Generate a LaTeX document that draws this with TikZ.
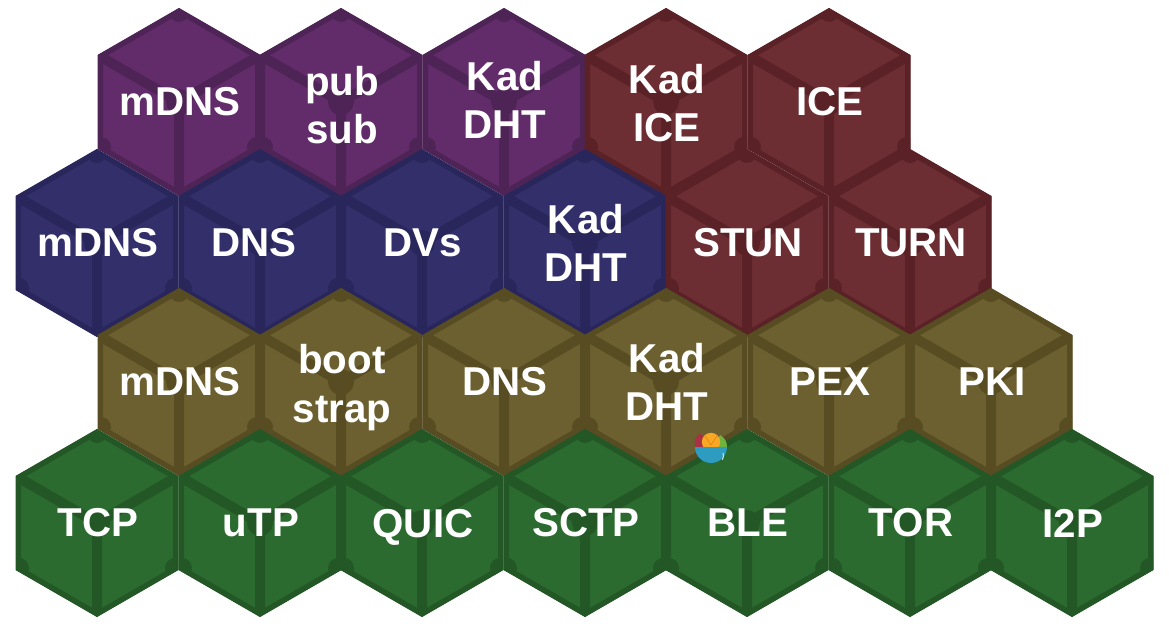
\documentclass[tikz,border=0pt]{standalone}
\usepackage{fontspec}
\setmainfont{Liberation Sans}
\usepackage{xcolor}
\usepackage{tikz}

\definecolor{greenface}{HTML}{2C6B30}
\definecolor{greenedge}{HTML}{235725}
\definecolor{olivface}{HTML}{6D6030}
\definecolor{olivedge}{HTML}{584C22}
\definecolor{blueface}{HTML}{322F6B}
\definecolor{blueedge}{HTML}{29265B}
\definecolor{plumface}{HTML}{622C6B}
\definecolor{plumedge}{HTML}{4E2456}
\definecolor{rustface}{HTML}{6D2E33}
\definecolor{rustedge}{HTML}{5A2227}
\definecolor{bowlblue}{HTML}{2E9CC0}
\definecolor{bowlred}{HTML}{A83244}
\definecolor{bowlorange}{HTML}{F9A825}
\definecolor{bowlgreen}{HTML}{6FB33F}

\newcommand{\hexpath}{(0,93.5) -- (81,46.75) -- (81,-46.75) -- (0,-93.5) -- (-81,-46.75) -- (-81,46.75) -- cycle}
% one cube: name, x, y, colour, label
\newcommand{\cubecell}[6][]{%
  \begin{scope}[shift={(#3,#4)}]
    \fill[#5face] \hexpath;
    \begin{scope}
      \clip \hexpath;
      \draw[#5edge,cubeline] \hexpath;
      \draw[#5edge,cubeline] (-81,46.75) -- (0,0) -- (81,46.75) (0,0) -- (0,-93.5);
      \fill[#5edge] (0,0) circle (13) (0,90) circle (10)
        (-78,-45) circle (10) (78,-45) circle (10);
    \end{scope}
    \draw[#5edge,line width=0.03cm] \hexpath;
    \node[cubelabel,#1] (#2) at (0,0) {#6};
  \end{scope}%
}

\begin{document}
\begin{tikzpicture}[
  x=0.03cm,y=0.03cm,
  cubeline/.style={line width=0.3cm},
  cubelabel/.style={text=white,align=center,inner sep=0pt,xshift=0.03cm,
    font=\fontsize{34.4}{41.6}\selectfont\bfseries}
]
\useasboundingbox (0,0) rectangle (1169,633);

% top row
\cubecell{mdnsa}{179}{531}{plum}{mDNS}
\cubecell[yshift=-0.09cm]{pubsub}{341}{531}{plum}{pub\\sub}
\cubecell[yshift=0.06cm]{kada}{504}{531}{plum}{Kad\\DHT}
\cubecell[yshift=-0.03cm]{kadice}{666}{531}{rust}{Kad\\ICE}
\cubecell{ice}{829}{531}{rust}{ICE}

% second row
\cubecell{mdnsb}{97}{390}{blue}{mDNS}
\cubecell[xshift=-0.2cm]{dnsa}{260}{390}{blue}{DNS}
\cubecell{dvs}{422}{390}{blue}{DVs}
\cubecell{kadb}{585}{390}{blue}{Kad\\DHT}
\cubecell{stun}{747}{390}{rust}{STUN}
\cubecell{turn}{910}{390}{rust}{TURN}

% third row
\cubecell{mdnsc}{179}{251}{oliv}{mDNS}
\cubecell[yshift=-0.17cm]{boot}{341}{251}{oliv}{boot\\strap}
\cubecell{dnsb}{504}{251}{oliv}{DNS}
\cubecell{kadc}{666}{251}{oliv}{Kad\\DHT}
\cubecell{pex}{829}{251}{oliv}{PEX}
\cubecell{pki}{991}{251}{oliv}{PKI}

% bottom row
\cubecell{tcp}{97}{110}{green}{TCP}
\cubecell{utp}{260}{110}{green}{uTP}
\cubecell[yshift=-0.12cm]{quic}{422}{110}{green}{QUIC}
\cubecell{sctp}{585}{110}{green}{SCTP}
\cubecell{ble}{747}{110}{green}{BLE}
\cubecell{tor}{910}{110}{green}{TOR}
\cubecell{itwop}{1072}{110}{green}{I2P}

% fruit bowl
\fill[bowlred] (695,186) .. controls (694,192) and (696,197) .. (700,200) -- (712,186) -- cycle;
\fill[bowlgreen] (720,198) .. controls (725,195) and (727,191) .. (727,186) -- (714,186) -- cycle;
\fill[bowlorange] (711,191) circle (9.2);
\draw[orange!85!black,line width=0.012cm] (711,188) -- (705,197) (711,188) -- (717,197);
\fill[bowlblue] (695,186) arc (180:360:16) -- cycle;
\draw[white!75!bowlblue,line width=0.03cm] (723,180) arc (20:-30:8);
\end{tikzpicture}
\end{document}
